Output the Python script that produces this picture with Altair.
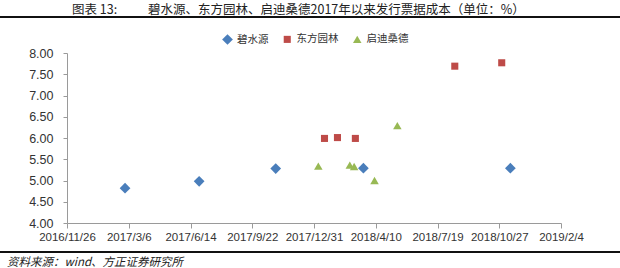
import json

import altair as alt
import pandas as pd

# Day 0 of the horizontal axis; ticks every 100 days
ORIGIN = pd.Timestamp("2016-11-26")
tick_days = [0, 100, 200, 300, 400, 500, 600, 700, 800]
tick_labels = ["2016/11/26", "2017/3/6", "2017/6/14", "2017/9/22", "2017/12/31",
               "2018/4/10", "2018/7/19", "2018/10/27", "2019/2/4"]
y_ticks = [4.0, 4.5, 5.0, 5.5, 6.0, 6.5, 7.0, 7.5, 8.0]

series_names = ["碧水源", "东方园林", "启迪桑德"]

bsy_dates = ["2017-02-28", "2017-06-28", "2017-10-30", "2018-03-21", "2018-11-14"]
bsy_rates = [4.82, 4.98, 5.28, 5.29, 5.29]

dfyl_dates = ["2018-01-17", "2018-02-07", "2018-03-08", "2018-08-16", "2018-10-31"]
dfyl_rates = [5.99, 6.01, 5.99, 7.69, 7.77]

qdsd_dates = ["2018-01-07", "2018-02-27", "2018-03-06", "2018-04-08", "2018-05-15"]
qdsd_rates = [5.34, 5.36, 5.33, 5.00, 6.29]

title_label = "图表 13:"
title_text = "碧水源、东方园林、启迪桑德2017年以来发行票据成本（单位：%）"
source_text = "资料来源：wind、方正证券研究所"

rows = []
for name, dates, rates in zip(series_names,
                              [bsy_dates, dfyl_dates, qdsd_dates],
                              [bsy_rates, dfyl_rates, qdsd_rates]):
    for d, r in zip(dates, rates):
        rows.append({"series": name,
                     "day": (pd.Timestamp(d) - ORIGIN).days,
                     "rate": r})
df = pd.DataFrame(rows)

label_expr = json.dumps(tick_labels, ensure_ascii=False) + "[round(datum.value / 100)]"

AXIS_FONT = "Liberation Sans"
CJK_FONT = "Noto Sans CJK SC"

shared_legend = alt.Legend(
    title=None, orient="none", direction="horizontal",
    legendX=155, legendY=-19, padding=0,
    symbolSize=36, symbolStrokeWidth=0, labelFont=CJK_FONT,
    labelFontSize=10.5, labelColor="#333333", labelOffset=4,
    columnPadding=13,
)

points = alt.Chart(df).mark_point(filled=True, opacity=1).encode(
    x=alt.X("day:Q",
            scale=alt.Scale(domain=[0, 800], nice=False, zero=False),
            axis=alt.Axis(values=tick_days, labelExpr=label_expr, title=None,
                          grid=False, domainColor="#9a9a9a", tickColor="#9a9a9a",
                          tickSize=5, labelPadding=3, labelFont=AXIS_FONT,
                          labelFontSize=11.5, labelColor="#333333",
                          labelFlush=False, labelOverlap=False)),
    y=alt.Y("rate:Q",
            scale=alt.Scale(domain=[4, 8], nice=False, zero=False),
            axis=alt.Axis(values=y_ticks, format=".2f", title=None, grid=False,
                          domainColor="#9a9a9a", tickColor="#9a9a9a",
                          tickSize=4, labelPadding=10, labelFont=AXIS_FONT,
                          labelFontSize=12.5, labelColor="#333333",
                          labelFlush=False)),
    color=alt.Color("series:N",
                    scale=alt.Scale(domain=series_names,
                                    range=["#4a7ebb", "#be4b48", "#98b954"]),
                    legend=shared_legend),
    shape=alt.Shape("series:N",
                    scale=alt.Scale(domain=series_names,
                                    range=["diamond", "square", "triangle-up"]),
                    legend=shared_legend),
    size=alt.Size("series:N",
                  scale=alt.Scale(type="ordinal", domain=series_names,
                                  range=[115, 50, 72]),
                  legend=None),
)


def text_layer(text, x, y, size, align="left", italic=False):
    return alt.Chart(pd.DataFrame({"t": [text]})).mark_text(
        align=align, baseline="middle", font=CJK_FONT, fontSize=size,
        fontStyle="italic" if italic else "normal", color="#222222",
    ).encode(x=alt.value(x), y=alt.value(y), text="t:N")


def rule_layer(y):
    return alt.Chart(pd.DataFrame({"k": [0]})).mark_rule(
        color="#111111", strokeWidth=2.2,
    ).encode(x=alt.value(-67), x2=alt.value(553), y=alt.value(y))


chart = alt.layer(
    points,
    text_layer(title_label, 5, -43, 12.5),
    text_layer(title_text, 81, -43, 12.5),
    rule_layer(-36),
    rule_layer(199),
    text_layer(source_text, -60, 210, 11.5, italic=True),
).properties(
    width=494, height=170,
    padding={"left": 67, "top": 53, "right": 59, "bottom": 45},
    autosize=alt.AutoSizeParams(type="none"),
    background="white",
).configure_view(stroke=None)

chart.save("out.html", embed_options={"renderer": "svg", "actions": False})
